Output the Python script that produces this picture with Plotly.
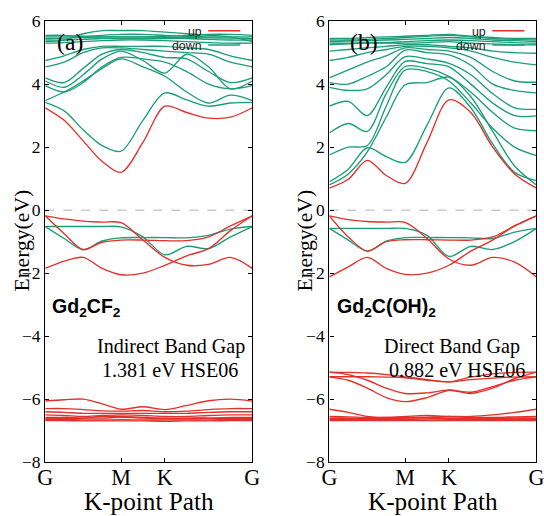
import plotly.graph_objects as go

# k-path nodes (G, 3 pts, M, 1 pt, K, 3 pts, G)
K_NODES = [0.0, 0.1443, 0.2887, 0.4330, 0.5774, 0.7440, 0.9107, 1.0774, 1.2440, 1.4107, 1.5774]
K_TICKS = [0.0, 0.5774, 0.9107, 1.5774]
K_LABELS = ["G", "M", "K", "G"]
Y_TICKS = [-8, -6, -4, -2, 0, 2, 4, 6]

# ---------------- panel (a) Gd2CF2 ----------------
A_UP_CB = [
    [3.25, 2.85, 2.20, 1.55, 1.20, 2.15, 3.30, 3.10, 2.92, 2.95, 3.25],
]
A_UP_VB = [
    [-0.18, -0.28, -0.35, -0.38, -0.40, -0.95, -1.50, -1.75, -1.72, -1.50, -1.85],
    [-0.18, -0.75, -1.25, -1.02, -0.95, -0.95, -0.97, -0.97, -0.85, -0.50, -0.18],
    [-1.85, -1.62, -1.50, -1.85, -2.05, -2.00, -1.75, -1.45, -1.22, -0.65, -0.18],
]
A_UP_DEEP = [
    [-6.06, -6.02, -6.00, -6.15, -6.32, -6.24, -6.33, -6.20, -6.05, -6.00, -6.06],
    [-6.30, -6.30, -6.33, -6.37, -6.38, -6.36, -6.40, -6.38, -6.33, -6.30, -6.30],
    [-6.40, -6.42, -6.45, -6.45, -6.45, -6.45, -6.45, -6.45, -6.42, -6.40, -6.40],
    [-6.50, -6.52, -6.55, -6.52, -6.50, -6.52, -6.55, -6.55, -6.52, -6.50, -6.50],
    [-6.58, -6.58, -6.60, -6.60, -6.58, -6.60, -6.62, -6.62, -6.60, -6.58, -6.58],
    [-6.62, -6.62, -6.60, -6.55, -6.55, -6.58, -6.60, -6.60, -6.60, -6.62, -6.62],
    [-6.65, -6.65, -6.66, -6.66, -6.65, -6.66, -6.66, -6.66, -6.66, -6.65, -6.65],
    [-6.68, -6.68, -6.69, -6.69, -6.69, -6.69, -6.70, -6.69, -6.69, -6.68, -6.68],
]
A_DOWN_CB = [
    [3.42, 3.15, 2.55, 2.05, 1.87, 2.85, 3.72, 3.50, 3.30, 3.40, 3.42],
    [3.48, 3.75, 4.10, 4.50, 4.80, 4.55, 4.25, 3.75, 3.40, 3.65, 3.48],
    [3.95, 3.75, 4.05, 4.55, 4.85, 4.80, 4.70, 4.40, 4.00, 3.85, 3.95],
    [4.10, 3.90, 4.30, 4.80, 5.05, 4.75, 4.35, 4.95, 4.55, 3.85, 4.10],
    [4.20, 4.05, 4.50, 4.95, 5.10, 5.00, 4.85, 4.80, 4.40, 4.05, 4.20],
    [4.55, 4.70, 5.00, 5.15, 5.15, 5.10, 5.05, 5.00, 4.95, 4.70, 4.55],
    [4.75, 4.90, 5.10, 5.20, 5.20, 5.20, 5.20, 5.15, 5.10, 4.90, 4.75],
    [5.35, 5.40, 5.60, 5.70, 5.70, 5.70, 5.65, 5.60, 5.55, 5.50, 5.35],
    [5.40, 5.40, 5.42, 5.45, 5.45, 5.45, 5.45, 5.45, 5.42, 5.40, 5.40],
    [5.45, 5.46, 5.48, 5.50, 5.50, 5.50, 5.48, 5.48, 5.47, 5.46, 5.45],
    [5.30, 5.32, 5.35, 5.38, 5.40, 5.40, 5.38, 5.35, 5.32, 5.30, 5.30],
    [5.55, 5.55, 5.52, 5.50, 5.50, 5.50, 5.52, 5.55, 5.58, 5.58, 5.55],
    [5.50, 5.50, 5.50, 5.55, 5.58, 5.58, 5.55, 5.52, 5.50, 5.50, 5.50],
]
A_DOWN_VB = [
    [-0.52, -0.52, -0.52, -0.52, -0.53, -0.85, -1.42, -1.15, -1.22, -0.85, -0.52],
    [-0.52, -0.90, -1.26, -0.98, -0.88, -0.87, -0.87, -0.88, -0.80, -0.60, -0.52],
]

# ---------------- panel (b) Gd2C(OH)2 ----------------
B_UP_CB = [
    [0.70, 0.98, 1.58, 1.10, 0.85, 2.15, 3.50, 3.10, 2.00, 1.15, 0.70],
]
B_UP_VB = [
    [-0.18, -0.30, -0.36, -0.38, -0.39, -0.90, -1.55, -1.75, -1.50, -1.65, -2.12],
    [-0.18, -0.85, -1.30, -1.00, -0.94, -0.94, -0.95, -0.95, -0.85, -0.50, -0.18],
    [-2.12, -1.80, -1.50, -1.85, -2.04, -2.00, -1.75, -1.30, -0.95, -0.50, -0.18],
]
B_UP_DEEP = [
    [-5.14, -5.15, -5.17, -5.22, -5.29, -5.38, -5.45, -5.30, -5.20, -5.15, -5.14],
    [-5.29, -5.29, -5.29, -5.30, -5.32, -5.40, -5.45, -5.38, -5.33, -5.30, -5.29],
    [-5.14, -5.22, -5.40, -5.65, -5.82, -5.80, -5.71, -5.78, -5.60, -5.40, -5.29],
    [-5.29, -5.40, -5.65, -5.95, -6.08, -5.95, -5.72, -5.82, -5.65, -5.35, -5.14],
    [-6.32, -6.42, -6.55, -6.60, -6.60, -6.58, -6.55, -6.55, -6.50, -6.42, -6.32],
    [-6.55, -6.56, -6.58, -6.58, -6.55, -6.52, -6.55, -6.58, -6.58, -6.56, -6.55],
    [-6.60, -6.60, -6.62, -6.62, -6.60, -6.58, -6.60, -6.62, -6.62, -6.60, -6.60],
    [-6.64, -6.64, -6.65, -6.65, -6.64, -6.63, -6.64, -6.65, -6.65, -6.64, -6.64],
    [-6.68, -6.68, -6.68, -6.68, -6.68, -6.68, -6.68, -6.68, -6.68, -6.68, -6.68],
    [-6.62, -6.62, -6.60, -6.58, -6.57, -6.60, -6.62, -6.62, -6.60, -6.60, -6.62],
]
B_DOWN_CB = [
    [0.80, 1.15, 1.85, 2.95, 3.98, 4.05, 4.22, 3.60, 2.50, 1.40, 0.80],
    [0.90, 1.30, 1.98, 1.70, 1.52, 2.70, 3.88, 3.25, 2.10, 1.20, 0.94],
    [1.75, 2.00, 2.05, 3.30, 4.45, 4.40, 4.10, 3.40, 2.60, 2.00, 1.73],
    [2.45, 2.75, 2.50, 3.70, 4.56, 4.50, 4.25, 3.75, 3.10, 2.60, 2.52],
    [3.30, 3.45, 3.00, 3.90, 4.72, 4.65, 4.55, 4.00, 3.40, 3.00, 2.99],
    [3.90, 3.80, 3.85, 4.30, 4.87, 4.80, 4.66, 4.30, 3.70, 3.25, 3.20],
    [4.05, 4.00, 4.25, 4.55, 5.08, 5.00, 4.93, 4.60, 4.00, 3.80, 3.72],
    [4.20, 4.45, 4.70, 4.90, 5.15, 5.10, 5.05, 4.85, 4.40, 4.10, 4.06],
    [4.75, 4.85, 5.00, 5.10, 5.20, 5.20, 5.15, 5.05, 4.85, 4.70, 4.61],
    [5.05, 5.10, 5.15, 5.20, 5.25, 5.25, 5.20, 5.15, 5.05, 5.00, 4.98],
    [5.25, 5.28, 5.30, 5.30, 5.30, 5.32, 5.35, 5.30, 5.28, 5.25, 5.25],
    [5.30, 5.30, 5.32, 5.32, 5.35, 5.38, 5.40, 5.38, 5.35, 5.32, 5.30],
    [5.35, 5.37, 5.38, 5.40, 5.42, 5.45, 5.48, 5.45, 5.40, 5.38, 5.35],
    [5.40, 5.40, 5.42, 5.45, 5.48, 5.52, 5.55, 5.50, 5.45, 5.42, 5.40],
    [5.45, 5.45, 5.48, 5.50, 5.52, 5.55, 5.58, 5.52, 5.48, 5.45, 5.45],
]
B_DOWN_VB = [
    [-0.58, -0.58, -0.58, -0.58, -0.58, -0.80, -1.47, -1.15, -1.25, -1.00, -0.58],
    [-0.58, -0.95, -1.30, -0.98, -0.87, -0.87, -0.87, -0.88, -0.90, -0.70, -0.58],
]

RED = "#e2302a"
GREEN = "#1a9e77"
SERIF = "Liberation Serif"
SANS = "Liberation Sans"

# The photographed page is scaled by ~0.971 and the body keeps an 8px margin,
# so target picture positions are converted to figure pixels here.
S = 0.971
OFF = 8
FW, FH = 560, 531


def px(xp):
    return (xp / S - OFF) / FW


def py(yp):
    return 1 - (yp / S - OFF) / FH


def fs(v):
    return v / S


fig = go.Figure()


def add_bands(bands, color, xa, ya):
    for b in bands:
        fig.add_trace(go.Scatter(
            x=K_NODES, y=b, mode="lines", xaxis=xa, yaxis=ya,
            line=dict(color=color, width=fs(1.3), shape="spline", smoothing=0.9),
            showlegend=False, hoverinfo="skip"))


add_bands(A_DOWN_CB + A_DOWN_VB, GREEN, "x", "y")
add_bands(A_UP_CB + A_UP_VB + A_UP_DEEP, RED, "x", "y")
add_bands(B_DOWN_CB + B_DOWN_VB, GREEN, "x2", "y2")
add_bands(B_UP_CB + B_UP_VB + B_UP_DEEP, RED, "x2", "y2")

xd_a = [px(45), px(252)]
xd_b = [px(329), px(536)]
yd = [py(464), py(19)]

xax = dict(range=[K_NODES[0], K_NODES[-1]], tickvals=K_TICKS, ticktext=K_LABELS,
           ticks="inside", ticklen=4, tickcolor="black", showline=True, linecolor="black",
           linewidth=1.4, mirror="ticks", showgrid=False, zeroline=False,
           ticklabelstandoff=-5,
           tickfont=dict(family=SERIF, size=fs(21.5), color="black"))
yax = dict(range=[-8, 6], tickvals=Y_TICKS, ticks="inside", ticklen=4, tickcolor="black",
           showline=True, linecolor="black", linewidth=1.4, mirror="ticks",
           showgrid=False, zeroline=False,
           tickfont=dict(family=SERIF, size=fs(17), color="black"))

fig.update_layout(
    width=FW, height=FH, margin=dict(l=0, r=0, t=0, b=0),
    paper_bgcolor="white", plot_bgcolor="white", showlegend=False,
    xaxis=dict(xax, domain=xd_a, anchor="y"),
    yaxis=dict(yax, domain=yd, anchor="x"),
    xaxis2=dict(xax, domain=xd_b, anchor="y2"),
    yaxis2=dict(yax, domain=yd, anchor="x2"),
)

# zero (Fermi) dashed line
for xr, yr in (("x domain", "y"), ("x2 domain", "y2")):
    fig.add_shape(type="line", xref=xr, yref=yr, x0=0, x1=1, y0=0, y1=0,
                  line=dict(color="#b0b0b0", width=1, dash="dash"), layer="below")

panels = [
    dict(xa="x", ya="y", label="(a)", lx=0.121, name="Gd<sub>2</sub>CF<sub>2</sub>",
         nx=0.024, gap1="Indirect Band Gap", g1x=0.609, gap2="1.381 eV HSE06", g2x=0.601,
         ycx=22, xtx=148.5),
    dict(xa="x2", ya="y2", label="(b)", lx=0.167, name="Gd<sub>2</sub>C(OH)<sub>2</sub>",
         nx=0.029, gap1="Direct Band Gap", g1x=0.594, gap2="0.882 eV HSE06", g2x=0.618,
         ycx=305, xtx=432.5),
]

for p in panels:
    xr = p["xa"] + " domain"
    yr = p["ya"] + " domain"
    fig.add_annotation(x=p["lx"], y=0.953, xref=xr, yref=yr, text=p["label"], showarrow=False,
                       xanchor="center", yanchor="middle",
                       font=dict(family=SERIF, size=fs(23), color="black"))
    fig.add_annotation(x=p["nx"], y=0.351, xref=xr, yref=yr, text="<b>" + p["name"] + "</b>",
                       showarrow=False, xanchor="left", yanchor="middle",
                       font=dict(family=SANS, size=fs(19), color="black"))
    fig.add_annotation(x=p["g1x"], y=0.263, xref=xr, yref=yr, text=p["gap1"], showarrow=False,
                       xanchor="center", yanchor="middle",
                       font=dict(family=SERIF, size=fs(19.5), color="black"))
    fig.add_annotation(x=p["g2x"], y=0.208, xref=xr, yref=yr, text=p["gap2"], showarrow=False,
                       xanchor="center", yanchor="middle",
                       font=dict(family=SERIF, size=fs(19.5), color="black"))
    # axis titles
    fig.add_annotation(x=px(p["ycx"]), y=py(240), xref="paper", yref="paper", text="Energy(eV)",
                       showarrow=False, textangle=-90, xanchor="center", yanchor="middle",
                       font=dict(family=SERIF, size=fs(21), color="black"))
    fig.add_annotation(x=px(p["xtx"]), y=py(504), xref="paper", yref="paper", text="K-point Path",
                       showarrow=False, xanchor="center", yanchor="middle",
                       font=dict(family=SERIF, size=fs(24.5), color="black"))
    # key
    for txt, col, yy in (("up", RED, 0.976), ("down", GREEN, 0.944)):
        fig.add_annotation(x=0.765, y=yy, xref=xr, yref=yr, text=txt, showarrow=False,
                           xanchor="right", yanchor="middle",
                           font=dict(family=SANS, size=fs(12), color="#222"))
        fig.add_shape(type="line", xref=xr, yref=yr, x0=0.787, x1=0.942, y0=yy + 0.002,
                      y1=yy + 0.002, line=dict(color=col, width=1.5))

fig.write_html("out.html")
